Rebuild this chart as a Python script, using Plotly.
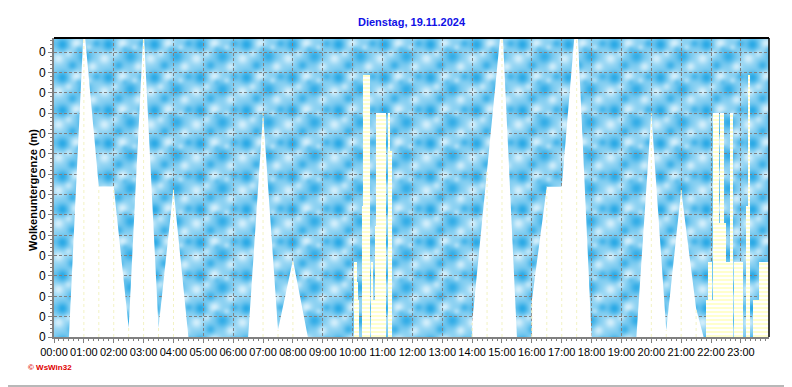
import base64
import struct
import zlib

import numpy as np
import plotly.graph_objects as go

# ---------------- data ----------------
hour_labels = ["00:00", "01:00", "02:00", "03:00", "04:00", "05:00", "06:00", "07:00",
               "08:00", "09:00", "10:00", "11:00", "12:00", "13:00", "14:00", "15:00",
               "16:00", "17:00", "18:00", "19:00", "20:00", "21:00", "22:00", "23:00"]
hour_values = list(range(24))

y_tick_values = list(range(15))
y_tick_labels = ["0"] * 15

# cloud base profile (white area); None = gap in the record
white_times = ["00:30", "01:00", "01:30", "02:00", "02:30", "03:00", "03:30", "04:00", "04:30", None,
               "06:30", "07:00", "07:30", "08:00", "08:30", None,
               "14:00", "14:30", "15:00", "15:30", None,
               "16:00", "16:30", "17:00", "17:30", "18:00", None,
               "19:30", "20:00", "20:30", "21:00", "21:30", "21:45"]
white_values = [0, 15.4, 7.4, 7.4, 0.46, 15.2, 0.46, 7.3, 0, None,
                0, 11.0, 0.34, 3.8, 0, None,
                0.7, 8.2, 15.7, 0, None,
                1.8, 7.39, 7.39, 16.1, 0, None,
                0, 11.0, 0.34, 7.23, 1.4, 0]

# striped (white / pale yellow) blocks
stripe_start = ["10:03", "10:08", "10:10", "10:19", "10:21", "10:37", "10:41", "10:45", "10:47",
                "11:12", "11:16",
                "21:51", "21:53", "22:01", "22:04", "22:16", "22:18", "22:26", "22:29", "22:38",
                "22:46", "23:12", "23:14", "23:25", "23:37"]
stripe_end = ["10:08", "10:10", "10:13", "10:21", "10:35", "10:41", "10:45", "10:47", "11:07",
              "11:16", "11:20",
              "21:53", "22:01", "22:04", "22:16", "22:18", "22:26", "22:29", "22:38", "22:45",
              "23:04", "23:14", "23:18", "23:37", "23:56"]
stripe_top = [3.7, 2.72, 1.82, 6.46, 12.88, 3.7, 1.82, 5.46, 11.0,
              11.0, 9.16,
              1.82, 3.7, 1.82, 11.0, 5.6, 11.0, 5.6, 3.7, 11.0,
              3.7, 6.43, 12.88, 1.82, 3.7]

title_text = "Dienstag, 19.11.2024"
y_title = "Wolkenuntergrenze (m)"
credit_text = "© WsWin32"


def to_hours(s):
    if s is None:
        return None
    h, m = s.split(":")
    return int(h) + int(m) / 60.0


# split the white profile into its recorded segments
segments = [[]]
for t, val in zip(white_times, white_values):
    if t is None:
        segments.append([])
    else:
        segments[-1].append((to_hours(t), val))
segments = [s for s in segments if s]

sx0 = [to_hours(t) for t in stripe_start]
sx1 = [to_hours(t) for t in stripe_end]
s_center = [(a + b) / 2 for a, b in zip(sx0, sx1)]
s_width = [b - a for a, b in zip(sx0, sx1)]

# faint marker lines at the half-hour record points inside the white area
mx, my = [], []
for seg in segments:
    for t, val in seg:
        if val and abs(t * 2 - round(t * 2)) < 1e-9:
            mx += [t, t, None]
            my += [0, val, None]


# ---------------- decorative sky texture (background picture) ----------------
def png_data_uri(img):
    h, w, _ = img.shape
    raw = b"".join(b"\x00" + img[i].tobytes() for i in range(h))

    def chunk(tag, data):
        return (struct.pack(">I", len(data)) + tag + data
                + struct.pack(">I", zlib.crc32(tag + data) & 0xFFFFFFFF))

    png = (b"\x89PNG\r\n\x1a\n"
           + chunk(b"IHDR", struct.pack(">IIBBBBB", w, h, 8, 2, 0, 0, 0))
           + chunk(b"IDAT", zlib.compress(raw, 9))
           + chunk(b"IEND", b""))
    return "data:image/png;base64," + base64.b64encode(png).decode()


TILE_W, TILE_H = 46, 33
# (centre x, centre y, spread, strength): positive = deep blue patch, negative = pale patch
tile_blobs = [(8, 6, 4.5, 0.55), (30, 18, 5.0, 0.5), (18, 27, 3.5, 0.42), (42, 5, 3.0, 0.35),
              (24, 10, 2.5, 0.25),
              (22, 5, 4.0, -0.45), (4, 20, 4.0, -0.42), (38, 28, 3.5, -0.4), (14, 15, 2.8, -0.3),
              (34, 9, 2.2, -0.25)]
ty, tx = np.mgrid[0:TILE_H, 0:TILE_W].astype(float)
field = np.zeros_like(tx)
for cx, cy, s, a in tile_blobs:
    dx = (tx - cx + TILE_W / 2) % TILE_W - TILE_W / 2
    dy = (ty - cy + TILE_H / 2) % TILE_H - TILE_H / 2
    field += a * np.exp(-(dx ** 2 + dy ** 2) / (2 * s ** 2))
TH, TW = 299, 715
big = np.tile(field, (TH // TILE_H + 1, TW // TILE_W + 1))[:TH, :TW]
tex = np.clip(0.45 + big, 0, 1)
light = np.array([214, 240, 252], dtype=float)
dark = np.array([44, 170, 230], dtype=float)
img = (light * (1 - tex[..., None]) + dark * tex[..., None]).astype(np.uint8)
sky_uri = png_data_uri(img)

# ---------------- figure ----------------
# the page adds an 8 px body margin, so the figure is sized / placed to compensate
OFF = 8
FW, FH = 792 - OFF, 387 - OFF
PL, PT, PR, PB = 54 - OFF, 38 - OFF, 769 - OFF, 337 - OFF   # plot box in figure pixels
PW, PH = PR - PL, PB - PT


def px_x(px):  # page pixel -> paper x
    return (px - OFF - PL) / PW


def px_y(py):  # page pixel -> paper y
    return (PB - (py - OFF)) / PH


fig = go.Figure()

for seg in segments:
    fig.add_trace(go.Scatter(
        x=[p[0] for p in seg], y=[p[1] for p in seg], mode="lines", fill="tozeroy",
        fillcolor="white", line=dict(width=0, color="white"), hoverinfo="skip"))

fig.add_trace(go.Scatter(
    x=mx, y=my, mode="lines", line=dict(color="#F2F2C4", width=1, dash="dot"),
    hoverinfo="skip"))

fig.add_trace(go.Bar(
    x=s_center, y=stripe_top, width=s_width,
    marker=dict(color="white", line=dict(width=0),
                pattern=dict(shape="-", fgcolor="#FFFFCC", bgcolor="white",
                             size=4, solidity=0.5, fillmode="replace")),
    hoverinfo="skip"))

grid = dict(showgrid=True, gridcolor="#808080", gridwidth=1, griddash="3px,2px")

fig.update_layout(
    width=FW, height=FH,
    margin=dict(l=PL, r=FW - PR, t=PT, b=FH - PB, autoexpand=False),
    paper_bgcolor="white", plot_bgcolor="#86CDEF",
    showlegend=False, barmode="overlay", bargap=0,
    font=dict(family="Arial, 'Liberation Sans', sans-serif", color="black"),
    xaxis=dict(range=[0, 23.94], tickmode="array", tickvals=hour_values, ticktext=hour_labels,
               ticks="outside", ticklen=4, tickwidth=1, tickcolor="#808080",
               tickangle=0, tickfont=dict(size=11, color="black"),
               showline=True, linecolor="#808080", linewidth=2, zeroline=False,
               layer="below traces",
               minor=dict(tickmode="linear", tick0=0, dtick=1 / 6, ticks="outside",
                          ticklen=2, tickcolor="#808080", showgrid=False),
               **grid),
    yaxis=dict(range=[0, 14.7], tickmode="array", tickvals=y_tick_values, ticktext=y_tick_labels,
               ticks="outside", ticklen=4, tickwidth=1, tickcolor="#808080",
               tickfont=dict(size=12, color="black"),
               showline=True, linecolor="#808080", linewidth=2, zeroline=False,
               minor=dict(tickmode="linear", tick0=0, dtick=0.2, ticks="outside",
                          ticklen=2, tickcolor="#808080", showgrid=False),
               **grid),
    images=[dict(source=sky_uri, xref="x domain", yref="y domain", x=0, y=1,
                 sizex=1, sizey=1, xanchor="left", yanchor="top",
                 sizing="stretch", layer="below")],
)

# frame: black top and right edges, window border lines
fig.add_shape(type="line", xref="x domain", yref="y domain", x0=0, x1=1, y0=1, y1=1,
              line=dict(color="black", width=2))
fig.add_shape(type="line", xref="x domain", yref="y domain", x0=1, x1=1, y0=0, y1=1,
              line=dict(color="black", width=1.5))
fig.add_shape(type="line", xref="paper", yref="paper", x0=px_x(8), x1=px_x(790),
              y0=px_y(386), y1=px_y(386), line=dict(color="#A0A0A0", width=1.5))
fig.add_shape(type="line", xref="paper", yref="paper", x0=px_x(790), x1=px_x(790),
              y0=px_y(386), y1=px_y(8), line=dict(color="#A0A0A0", width=1.5))

fig.add_annotation(text="<b>" + title_text + "</b>", xref="paper", yref="paper",
                   x=0.5, y=px_y(22), xanchor="center", yanchor="middle",
                   showarrow=False, font=dict(size=11, color="#1010E6"))
fig.add_annotation(text="<b>" + y_title + "</b>", xref="paper", yref="paper",
                   x=px_x(33), y=px_y(190), xanchor="center", yanchor="middle",
                   textangle=-90, showarrow=False, font=dict(size=11, color="black"))
fig.add_annotation(text="<b>" + credit_text + "</b>", xref="paper", yref="paper",
                   x=px_x(26), y=px_y(367), xanchor="left", yanchor="middle",
                   showarrow=False, font=dict(size=8, color="#E00000"))

fig.write_html("out.html")
